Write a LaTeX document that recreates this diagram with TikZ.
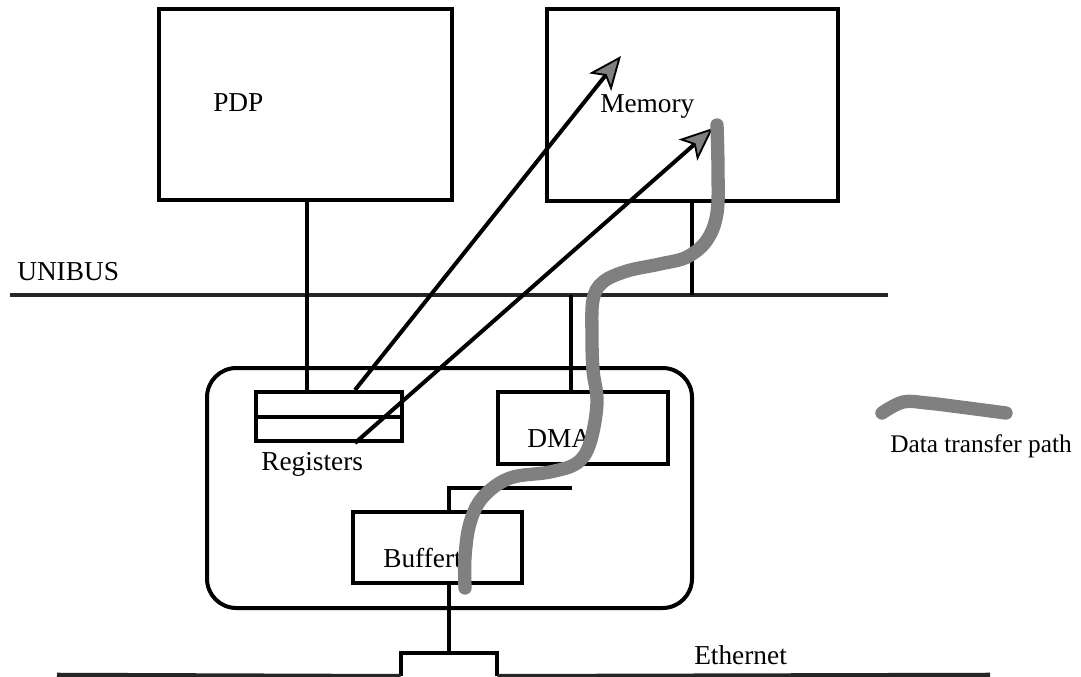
\documentclass[tikz,border=0pt]{standalone}
\usepackage{fontspec}
\setmainfont{Liberation Serif}
\usetikzlibrary{arrows.meta,fit}
\begin{document}
\begin{tikzpicture}[x=0.75pt,y=-0.75pt,
 box/.style={draw, line width=3pt, inner sep=0pt},
 lbl/.style={font=\fontsize{20.5}{24}\selectfont, inner sep=0pt, anchor=base west},
 wire/.style={line width=2.4pt},
 bus/.style={line width=3.4pt, black!85},
 ptr/.style={line width=3pt, -{Stealth[length=25pt,width=21pt,inset=6pt,line width=1.4pt,fill=black!50]}},
 wave/.style={line width=10pt, black!50, line cap=round}]

\fill[white] (0,0) rectangle (1081,677);
\useasboundingbox (0,0) rectangle (1081,677);

% boxes
\node[box, fit={(159,9)(452,200)}] (pdp) {};
\node[box, fit={(547,9)(838,201)}] (mem) {};
\node[box, rounded corners=22pt, fit={(207,368)(692,608)}] (ctrl) {};
\node[box, fit={(256,392)(402,441)}] (regs) {};
\draw[line width=3pt] (regs.west) -- (regs.east);
\node[box, fit={(498,392)(668,464)}] (dma) {};
\node[box, fit={(353,512)(522,583)}] (buf) {};
\node[inner sep=0pt, fit={(401,653)(497,676)}] (tap) {};
\draw[line width=3pt] (tap.south west) |- (tap.north east) -- (tap.south east);

% buses
\coordinate (ubL) at (10,295);
\coordinate (ubR) at (888,295);
\draw[bus] (ubL) -- (ubR);
\coordinate (ethL) at (57,675);
\coordinate (ethR) at (990,675);
\draw[bus] (ethL) -- (tap.south west);
\draw[bus] (tap.south east) -- (ethR);

% connectors
\coordinate (xp) at (307,0);
\coordinate (xm) at (692,0);
\coordinate (xd) at (571,0);
\coordinate (xb) at (449,0);
\coordinate (jd) at (572,488);
\draw[wire] (pdp.south -| xp) -- (regs.north -| xp);
\draw[wire] (mem.south -| xm) -- (ubR -| xm);
\draw[wire] (ubL -| xd) -- (dma.north -| xd);
\draw[wire] (jd) -- (jd -| xb) -- (buf.north -| xb);
\draw[wire] (buf.south -| xb) -- (tap.north -| xb);

% pointer arrows
\coordinate (xa) at (355,0);
\coordinate (a1) at (621,56);
\coordinate (a2) at (713,128);
\draw[ptr] (regs.north -| xa) -- (a1);
\draw[ptr] (regs.south -| xa) -- (a2);

% labels
\node[lbl] (tpdp) at (213,112) {PDP};
\node[lbl] (tmem) at (600,113) {Memory};
\node[lbl] (tub) at (17,281) {UNIBUS};
\node[lbl] (treg) at (261,470) {Registers};
\node[lbl] (tdma) at (527,447) {DMA};
\node[lbl] (tbuf) at (383,567) {Buffert};
\node[lbl] (teth) at (694,664) {Ethernet};
\node[lbl, font=\fontsize{19}{23}\selectfont] (tleg) at (890,452) {Data transfer path};

% data transfer path
\draw[wave] plot[smooth, tension=0.6] coordinates {(465,588) (465,557) (470,523) (483,497) (510,478) (550,472) (577,463) (590,443) (597,403) (593,370) (592,337) (593,300) (603,282) (627,271) (660,264) (687,257) (707,240) (717,213) (718,170) (717,125)};
\draw[wave] plot[smooth, tension=0.6] coordinates {(882,413) (903,402) (927,403) (960,407) (1006,413)};
\end{tikzpicture}
\end{document}
